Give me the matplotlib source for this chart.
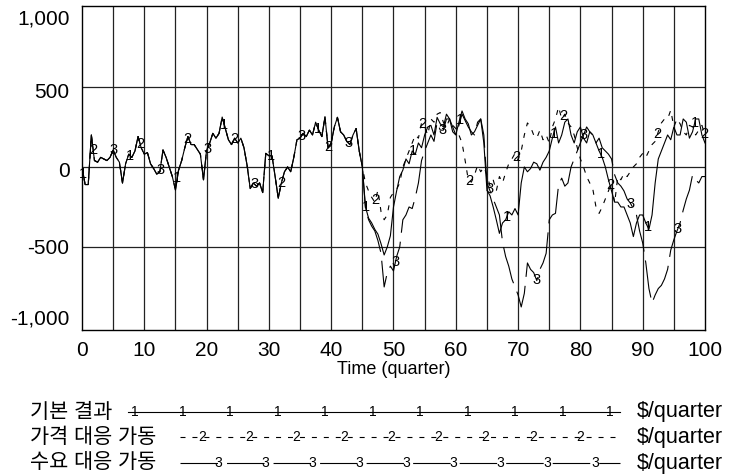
import numpy as np
import matplotlib
matplotlib.use('Agg')
import matplotlib.pyplot as plt
from matplotlib.transforms import ScaledTranslation

plt.rcParams['font.family'] = ['Liberation Sans', 'Noto Sans CJK KR', 'DejaVu Sans']
plt.rcParams['lines.scale_dashes'] = False

# values every half quarter; t = 0 .. 44.5 is the same for all three runs
early = [
    0, -110, -110, 200, 40, 30, 60, 50, 40, 60,
    106, 60, 30, -100, 20, 80, 60, 100, 190, 120,
    80, 90, 20, -10, -45, -30, 106, 60, 0, -60,
    -144, -20, 40, 120, 190, 140, 140, 110, 80, -80,
    106, 150, 210, 180, 210, 312, 240, 170, 140, 180,
    150, 180, 120, 10, -135, -100, -120, -100, -160, 85,
    70, 70, -60, -195, -100, -30, 0, -30, 60, 170,
    180, 210, 190, 230, 200, 280, 230, 190, 313, 120,
    150, 250, 310, 220, 200, 160, 140, 200, 240, 100,
]

# t = 45 .. 100
base_late = [
    0, -250, -320, -350, -390, -420, -480, -550, -500, -430,
    -250, -150, -60, -20, 50, 20, 100, 80, 150, 120,
    200, 250, 260, 200, 310, 270, 250, 330, 300, 220,
    200, 280, 350, 300, 270, 200, 220, 260, 300, 150,
    -145, -180, -250, -330, -415, -350, -330, -280, -300, -260,
    -300, -100, 0, -30, -10, 30, 20, -20, 30, 60,
    100, 180, 250, 150, 200, 280, 300, 200, 150, 220,
    250, 180, 150, 220, 200, 150, 100, 60, 0, -80,
    -150, -220, -220, -250, -250, -300, -350, -435, -350, -300,
    -300, -350, -390, -300, -100, 50, 100, 150, 200, 170,
    250, 200, 200, 300, 280, 180, 220, 300, 300, 200,
    150,
]
price_late = [
    0, -100, -150, -190, -220, -145, -280, -330, -300, -190,
    -160, -140, -100, 0, 50, 100, 150, 200, 180, 275,
    250, 200, 300, 280, 330, 340, 280, 250, 300, 260,
    240, 200, 150, 40, -80, -95, -50, 10, -30, 0,
    -50, -120, -80, -150, -60, -100, -35, 20, 50, 85,
    45, 100, 200, 275, 250, 200, 180, 230, 170, 200,
    150, 250, 300, 375, 300, 330, 275, 250, 200, 120,
    50, 0, -60, -100, -140, -250, -290, -250, -200, -150,
    -100, -225, -60, -80, -40, -60, -30, 0, 20, 60,
    85, 60, 100, 140, 160, 220, 275, 300, 300, 355,
    250, 300, 270, 220, 200, 260, 250, 200, 230, 260,
    200,
]
demand_late = [
    0, -260, -330, -370, -400, -460, -540, -750, -660, -620,
    -650, -560, -500, -330, -300, -250, -260, -190, -100, 40,
    100, 150, 200, 160, 280, 230, 230, 300, 300, 250,
    200, 260, 330, 290, 250, 220, 200, 280, 300, 200,
    -100, -150, -200, -250, -300, -470, -560, -620, -700, -750,
    -800, -875, -790, -600, -640, -660, -710, -640, -600, -540,
    -330, -300, -290, -110, -70, -120, -100, 0, 50, 100,
    150, 200, 250, 220, 200, 150, 180, 120, 100, 80,
    50, -50, -100, -120, -150, -200, -225, -260, -300, -400,
    -475, -600, -760, -850, -800, -760, -740, -700, -640, -520,
    -455, -400, -350, -270, -200, -145, -50, -80, -100, -60,
    -60,
]

series_names = ['기본 결과', '가격 대응 가동', '수요 대응 가동']
unit = '$/quarter'
x_ticks = [0, 10, 20, 30, 40, 50, 60, 70, 80, 90, 100]
y_ticks = [-1000, -500, 0, 500, 1000]
y_tick_labels = ['-1,000', '-500', '0', '500', '1,000']

t = np.arange(0, 100.01, 0.5)
runs = [np.array(early + base_late, dtype=float),
        np.array(early + price_late, dtype=float),
        np.array(early + demand_late, dtype=float)]

W, H = 731, 475
fig = plt.figure(figsize=(W / 100, H / 100), dpi=100)
ax = fig.add_axes([82 / W, 1 - 330 / H, 623 / W, 324 / H])
ax.set_xlim(0, 100)
ax.set_ylim(-1019, 1006)

for x in range(5, 100, 5):
    ax.axvline(x, color='#222222', lw=0.9, zorder=1)
for y in [-500, 0, 500]:
    ax.axhline(y, color='#222222', lw=0.9, zorder=1)

styles = [dict(ls='-'), dict(dashes=(3.6, 5)), dict(dashes=(27, 6.5))]
label_start = [0.2, 1.8, 5.0]
for i, (vals, st) in enumerate(zip(runs, styles)):
    ax.plot(t, vals, color='black', lw=0.8, zorder=2, **st)
    for lt in np.arange(label_start[i], 100, 7.55):
        ax.text(lt, np.interp(lt, t, vals), str(i + 1), fontsize=10.5,
                ha='center', va='center', zorder=3)

for sp in ax.spines.values():
    sp.set_linewidth(1.0)
ax.set_xticks(x_ticks)
ax.set_yticks(y_ticks)
ax.set_yticklabels(y_tick_labels)
ax.tick_params(length=0, labelsize=15, pad=8)
ax.tick_params(axis='y', pad=9)
offsets = [10, 0, -3, -4, -10]
for lab, dy in zip(ax.get_yticklabels(), offsets):
    lab.set_transform(lab.get_transform() + ScaledTranslation(0, dy / 100, fig.dpi_scale_trans))
ax.set_xlabel('Time (quarter)', fontsize=13, labelpad=1)

# legend drawn under the chart, in pixel units
lax = fig.add_axes([0, 0, 1, 1], zorder=-1)
lax.set_xlim(0, W)
lax.set_ylim(H, 0)
lax.axis('off')
rows = [412, 437, 463]
line_start = [128, 180, 180]
mark_x = [np.arange(135, 615, 47.5), np.arange(202, 585, 47.25), np.arange(218, 600, 47.1)]
for i, y in enumerate(rows):
    lax.text(30, y, series_names[i], fontsize=15, ha='left', va='center')
    lax.plot([line_start[i], 620], [y, y], color='black', lw=0.8, **styles[i])
    for mx in mark_x[i]:
        lax.text(mx, y, str(i + 1), fontsize=10, ha='center', va='center')
    lax.text(637, y, unit, fontsize=15.5, ha='left', va='center')

fig.savefig('out.png', dpi=100)
